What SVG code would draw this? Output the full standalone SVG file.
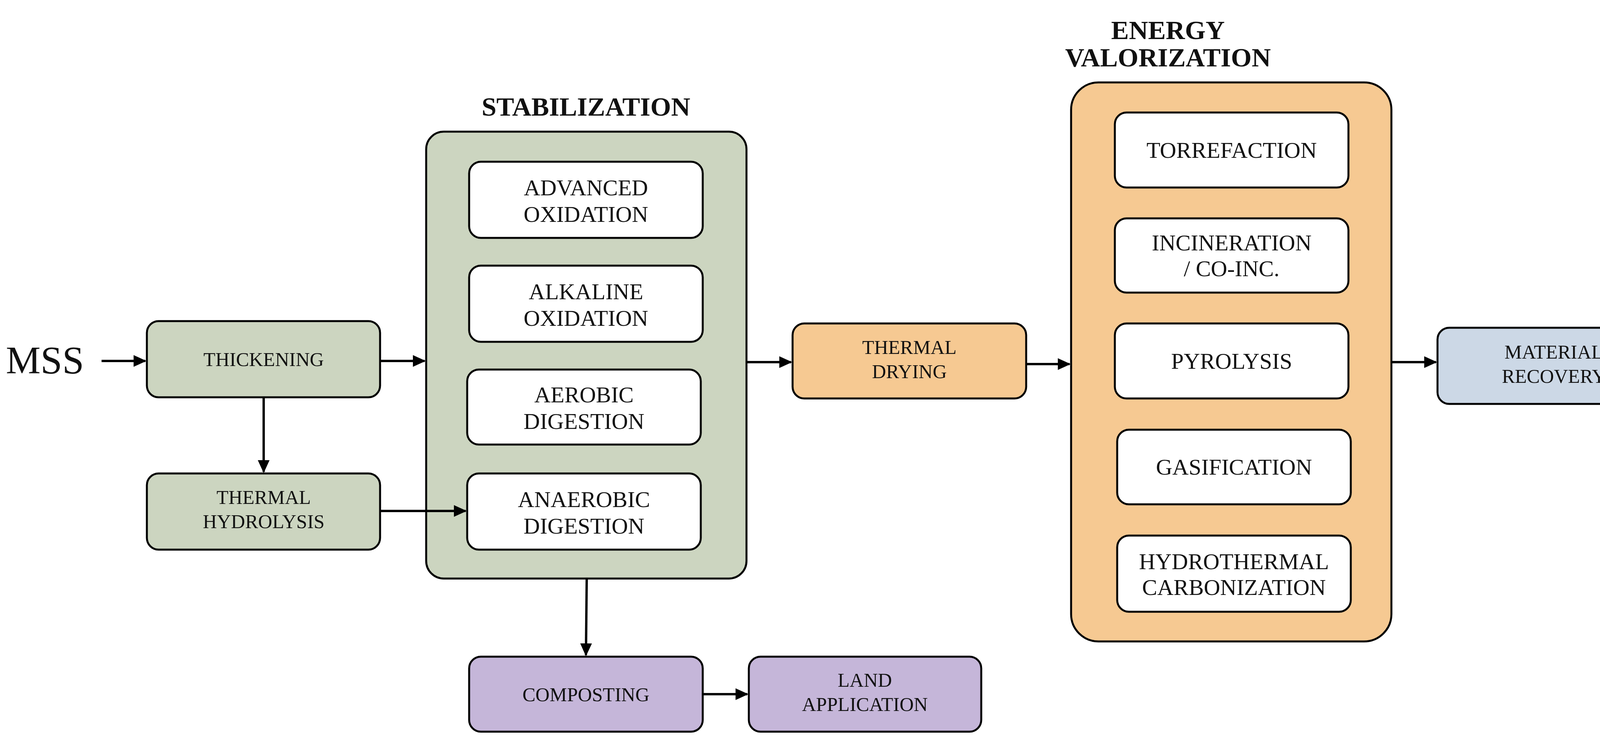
<svg xmlns="http://www.w3.org/2000/svg" width="4300" height="1902" viewBox="0 0 4300 1902">
<defs>
<marker id="ah" markerWidth="6" markerHeight="6" refX="5" refY="3" orient="auto" markerUnits="strokeWidth"><path d="M0,0.5 L5.5,3 L0,5.5 z" fill="#000"/></marker>
<style>
.b{stroke:#000;stroke-width:5}
.g{fill:#CCD5C0}.o{fill:#F6C992}.bl{fill:#CCD8E6}.p{fill:#C5B6D9}.w{fill:#fff}
text{font-family:"Liberation Serif","Times New Roman",serif;text-anchor:middle;fill:#111}
.s{font-size:50px}.m{font-size:58px}.t{font-size:68px;font-weight:bold}
.c line{stroke:#000;stroke-width:6;marker-end:url(#ah)}
</style>
</defs>
<rect width="4300" height="1902" fill="#fff"/>
<text x="115" y="955" style="font-size:100px">MSS</text>
<text class="t" x="1500" y="296">STABILIZATION</text>
<text class="t" x="2990" y="100">ENERGY</text>
<text class="t" x="2990" y="170">VALORIZATION</text>
<g id="stab"><rect class="b g" x="1091" y="337" width="820" height="1144" rx="45"/></g>
<g id="energy"><rect class="b o" x="2742" y="211" width="820" height="1431" rx="70"/></g>
<g id="thickening"><rect class="b g" x="376" y="822" width="597" height="195" rx="30"/><text class="s" x="675" y="937">THICKENING</text></g>
<g id="hydrolysis"><rect class="b g" x="376" y="1212" width="597" height="195" rx="30"/><text class="s" x="675" y="1290">THERMAL</text><text class="s" x="675" y="1352">HYDROLYSIS</text></g>
<g id="advanced"><rect class="b w" x="1201" y="414" width="598" height="195" rx="30"/><text class="m" x="1500" y="500">ADVANCED</text><text class="m" x="1500" y="568">OXIDATION</text></g>
<g id="alkaline"><rect class="b w" x="1201" y="680" width="598" height="195" rx="30"/><text class="m" x="1500" y="766">ALKALINE</text><text class="m" x="1500" y="834">OXIDATION</text></g>
<g id="aerobic"><rect class="b w" x="1196" y="946" width="598" height="192" rx="30"/><text class="m" x="1495" y="1030">AEROBIC</text><text class="m" x="1495" y="1098">DIGESTION</text></g>
<g id="anaerobic"><rect class="b w" x="1196" y="1212" width="598" height="195" rx="30"/><text class="m" x="1495" y="1298">ANAEROBIC</text><text class="m" x="1495" y="1366">DIGESTION</text></g>
<g id="composting"><rect class="b p" x="1201" y="1681" width="598" height="192" rx="30"/><text class="s" x="1500" y="1795">COMPOSTING</text></g>
<g id="land"><rect class="b p" x="1917" y="1681" width="595" height="192" rx="30"/><text class="s" x="2214" y="1758">LAND</text><text class="s" x="2214" y="1820">APPLICATION</text></g>
<g id="drying"><rect class="b o" x="2029" y="828" width="598" height="192" rx="30"/><text class="s" x="2328" y="906">THERMAL</text><text class="s" x="2328" y="968">DRYING</text></g>
<g id="torrefaction"><rect class="b w" x="2854" y="288" width="598" height="192" rx="30"/><text class="m" x="3153" y="404">TORREFACTION</text></g>
<g id="incineration"><rect class="b w" x="2854" y="559" width="598" height="190" rx="30"/><text class="m" x="3153" y="641">INCINERATION</text><text class="m" x="3153" y="707">/ CO-INC.</text></g>
<g id="pyrolysis"><rect class="b w" x="2854" y="828" width="598" height="192" rx="30"/><text class="m" x="3153" y="944">PYROLYSIS</text></g>
<g id="gasification"><rect class="b w" x="2860" y="1100" width="598" height="191" rx="30"/><text class="m" x="3159" y="1215">GASIFICATION</text></g>
<g id="htc"><rect class="b w" x="2860" y="1371" width="598" height="195" rx="30"/><text class="m" x="3159" y="1457">HYDROTHERMAL</text><text class="m" x="3159" y="1523">CARBONIZATION</text></g>
<g id="material"><rect class="b bl" x="3680" y="839" width="597" height="195" rx="30"/><text class="s" x="3978" y="918">MATERIAL</text><text class="s" x="3978" y="980">RECOVERY</text></g>
<g class="c" id="connectors">
<line x1="260" y1="924" x2="372" y2="924"/>
<line x1="973" y1="924" x2="1087" y2="924"/>
<line x1="675" y1="1017" x2="675" y2="1208"/>
<line x1="973" y1="1308" x2="1192" y2="1308"/>
<line x1="1911" y1="927" x2="2025" y2="927"/>
<line x1="2627" y1="932" x2="2738" y2="932"/>
<line x1="3562" y1="927" x2="3676" y2="927"/>
<line x1="1502" y1="1481" x2="1500" y2="1677"/>
<line x1="1799" y1="1777" x2="1913" y2="1777"/>
</g>
</svg>
